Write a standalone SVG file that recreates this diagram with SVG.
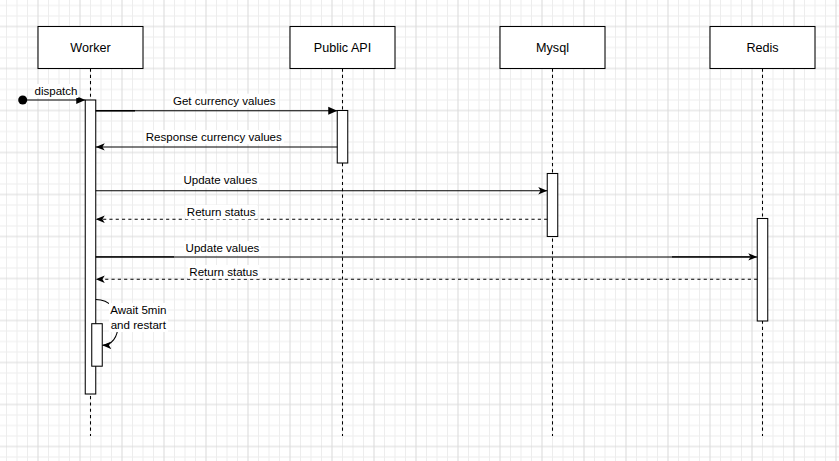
<svg xmlns="http://www.w3.org/2000/svg" width="839" height="461" viewBox="0 0 839 461">
  <style>
    .box { fill: #ffffff; stroke: #000000; stroke-width: 1.05; }
    .act { fill: #ffffff; stroke: #000000; stroke-width: 1.05; }
    .life { stroke: #000000; stroke-width: 1.05; stroke-dasharray: 3.15 3.15; fill: none; }
    .msg { stroke: #000000; stroke-width: 1.05; fill: none; }
    .ret { stroke: #000000; stroke-width: 1.05; stroke-dasharray: 3.15 3.15; fill: none; }
    .dark { stroke: #000000; stroke-width: 1.35; fill: none; }
    .title { font-family: "Liberation Sans", Arial, Helvetica, sans-serif; font-size: 12.6px; fill: #000000; text-anchor: middle; }
    .lbl { font-family: "Liberation Sans", Arial, Helvetica, sans-serif; font-size: 11.55px; fill: #000000; text-anchor: middle; }
    .lblbg { fill: #ffffff; stroke: none; }
  </style>
  <defs>
    <pattern id="grid" x="-4" y="-15.5" width="42" height="42" patternUnits="userSpaceOnUse">
      <path d="M10.5 0V42M21 0V42M31.5 0V42M0 10.5H42M0 21H42M0 31.5H42" stroke="#ededed" stroke-width="1" fill="none"/>
      <path d="M0 0V42M42 0V42M0 0H42M0 42H42" stroke="#d9d9d9" stroke-width="1" fill="none"/>
    </pattern>
    <marker id="block" viewBox="0 0 10 9" markerWidth="10" markerHeight="9" refX="9" refY="4.5" orient="auto" markerUnits="userSpaceOnUse">
      <path d="M0,0.5 L9,4.5 L0,8.5 Z" fill="#000000"/>
    </marker>
    <marker id="classic" viewBox="0 0 10 9" markerWidth="10" markerHeight="9" refX="9" refY="4.5" orient="auto" markerUnits="userSpaceOnUse">
      <path d="M0,0.8 L9,4.5 L0,8.2 L2.3,4.5 Z" fill="#000000"/>
    </marker>
  </defs>

  <rect x="0" y="0" width="839" height="461" fill="#ffffff"/>
  <rect x="0" y="0" width="839" height="461" fill="url(#grid)"/>

  <g id="lifeline-worker">
    <line class="life" x1="90.5" y1="68.5" x2="90.5" y2="436"/>
    <rect class="box" x="38" y="26.5" width="105" height="42"/>
    <text class="title" x="90.5" y="51.6">Worker</text>
  </g>
  <g id="lifeline-public-api">
    <line class="life" x1="342.5" y1="68.5" x2="342.5" y2="436"/>
    <rect class="box" x="290" y="26.5" width="105" height="42"/>
    <text class="title" x="342.5" y="51.6">Public API</text>
  </g>
  <g id="lifeline-mysql">
    <line class="life" x1="552.5" y1="68.5" x2="552.5" y2="436"/>
    <rect class="box" x="500" y="26.5" width="105" height="42"/>
    <text class="title" x="552.5" y="51.6">Mysql</text>
  </g>
  <g id="lifeline-redis">
    <line class="life" x1="762.5" y1="68.5" x2="762.5" y2="436"/>
    <rect class="box" x="710" y="26.5" width="105" height="42"/>
    <text class="title" x="762.5" y="51.6">Redis</text>
  </g>

  <g id="activation-worker">
    <rect class="act" x="85.25" y="100" width="10.5" height="294"/>
  </g>
  <g id="activation-worker-restart">
    <rect class="act" x="91.75" y="323.7" width="10.5" height="42.5"/>
  </g>
  <g id="activation-public-api">
    <rect class="act" x="337.25" y="110.5" width="10.5" height="52.5"/>
  </g>
  <g id="activation-mysql">
    <rect class="act" x="547.25" y="173.5" width="10.5" height="63"/>
  </g>
  <g id="activation-redis">
    <rect class="act" x="757.25" y="218.5" width="10.5" height="102.5"/>
  </g>

  <g id="connectors">
    <!-- dispatch -->
    <circle cx="22.7" cy="100" r="4.5" fill="#000000"/>
    <line class="msg" x1="22.7" y1="100" x2="85.25" y2="100" marker-end="url(#block)"/>
    <rect class="lblbg" x="33.5" y="84" width="45" height="14"/>
    <text class="lbl" x="56" y="95">dispatch</text>

    <!-- Get currency values -->
    <line class="msg" x1="95.75" y1="110.7" x2="337.25" y2="110.7" marker-end="url(#block)"/>
    <line class="dark" x1="95.75" y1="110.7" x2="135" y2="110.7"/>
    <rect class="lblbg" x="171" y="93.7" width="106.5" height="14.3"/>
    <text class="lbl" x="224.3" y="105.3">Get currency values</text>

    <!-- Response currency values -->
    <line class="msg" x1="337.25" y1="146.9" x2="95.75" y2="146.9" marker-end="url(#classic)"/>
    <rect class="lblbg" x="143.8" y="130" width="140" height="14.3"/>
    <text class="lbl" x="213.8" y="141">Response currency values</text>

    <!-- Update values (Mysql) -->
    <line class="msg" x1="95.75" y1="190.7" x2="547.25" y2="190.7" marker-end="url(#classic)"/>
    <rect class="lblbg" x="182" y="173.3" width="77" height="14.3"/>
    <text class="lbl" x="220.3" y="184.4">Update values</text>

    <!-- Return status (Mysql) -->
    <line class="ret" x1="547.25" y1="219.3" x2="95.75" y2="219.3" marker-end="url(#classic)"/>
    <rect class="lblbg" x="185.5" y="205" width="71.5" height="14.3"/>
    <text class="lbl" x="221.2" y="216">Return status</text>

    <!-- Update values (Redis) -->
    <line class="msg" x1="95.75" y1="256.9" x2="757.25" y2="256.9" marker-end="url(#classic)"/>
    <line class="dark" x1="95.75" y1="256.9" x2="174" y2="256.9"/>
    <line class="dark" x1="672" y1="256.9" x2="750" y2="256.9"/>
    <rect class="lblbg" x="184" y="241" width="77" height="14.3"/>
    <text class="lbl" x="222.5" y="252">Update values</text>

    <!-- Return status (Redis) -->
    <line class="ret" x1="757.25" y1="279.2" x2="95.75" y2="279.2" marker-end="url(#classic)"/>
    <rect class="lblbg" x="188" y="265" width="71.5" height="13.6"/>
    <text class="lbl" x="223.7" y="276">Return status</text>

    <!-- Await 5min and restart (self message) -->
    <path class="msg" d="M95.75 299.5 C110 299.5 118 310 118 325 C118 337 112 345.3 102.25 345.3" marker-end="url(#classic)"/>
    <rect class="lblbg" x="109" y="303" width="59" height="29"/>
    <text class="lbl" x="138.3" y="314">Await 5min</text>
    <text class="lbl" x="138.3" y="329">and restart</text>
  </g>
</svg>
